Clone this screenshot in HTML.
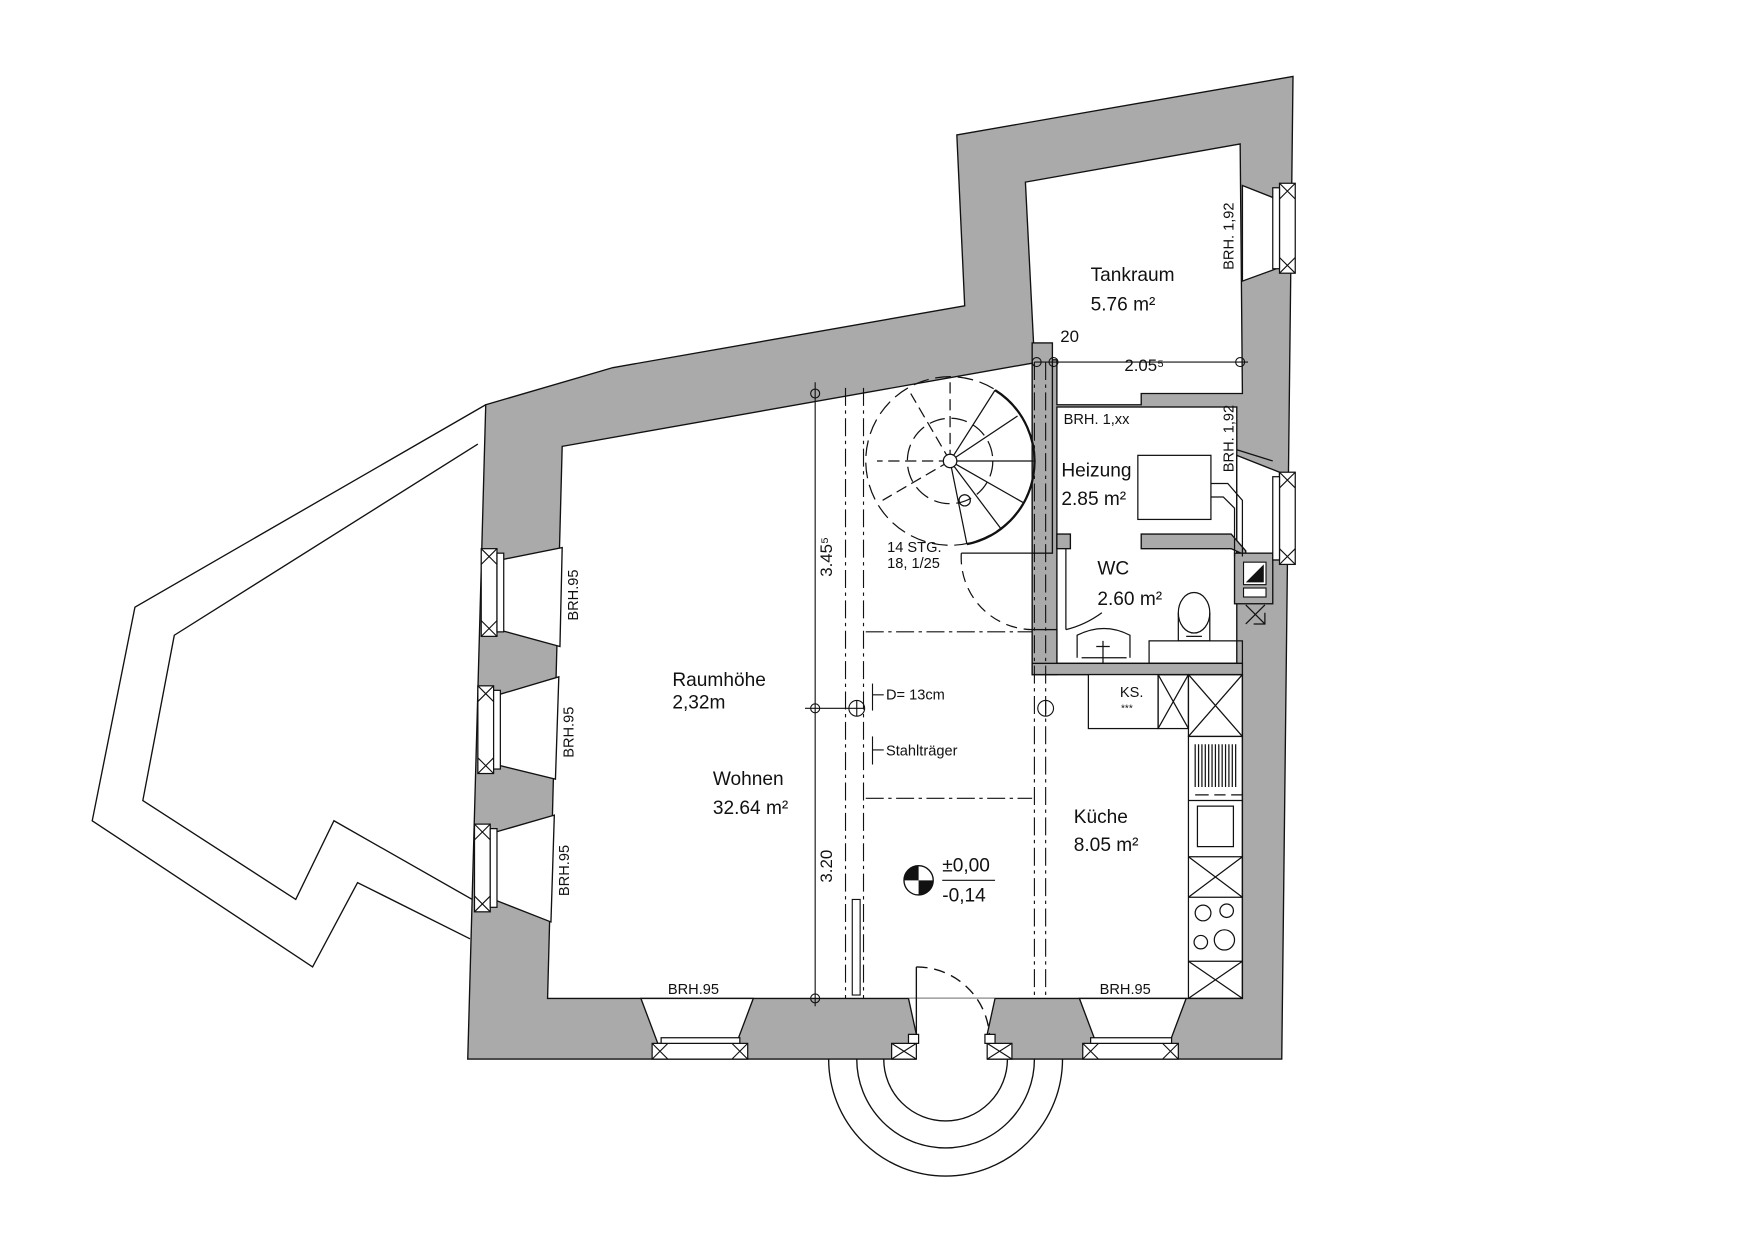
<!DOCTYPE html>
<html><head><meta charset="utf-8"><style>
html,body{margin:0;padding:0;background:#fff}
svg{display:block}
text{font-family:"Liberation Sans Narrow","Liberation Sans",sans-serif;fill:#111}
</style></head><body>
<svg width="1754" height="1239" viewBox="0 0 1560 1102" xmlns="http://www.w3.org/2000/svg">
<g stroke="#111" stroke-width="1.2" fill="none">
<polyline points="432,360 120,540 82,730 278,860 318,785 418,835"/>
<polyline points="425,395 155,565 127,712 263,800 297,730 420,800"/>
</g>
<polygon points="851,120 1150,68 1140,942 416,942 432,360 545,327 858,272" fill="#aaa" stroke="#111" stroke-width="1.2"/>
<g fill="#fff" stroke="#111" stroke-width="1.2">
<polygon points="500,397 918,323 918,600 1105,600 1105,888 487,888"/>
<polygon points="912,162 1103,128 1105,350 1015,350 1015,360 940,360 940,320 920,320"/>
<rect x="940" y="362" width="160" height="228"/>
<polygon points="445,498 500,487 498,575 443,560"/>
<polygon points="443,618 497,602 494,693 441,680"/>
<polygon points="441,740 493,725 490,820 439,800"/>
<polygon points="1105,165 1138,178 1138,238 1105,250"/>
<polygon points="1100,405 1138,420 1138,498 1100,498"/>
<polygon points="570,888 670,888 655,928 585,928"/>
<polygon points="960,888 1055,888 1040,928 975,928"/>
</g>
<polygon points="808,888 885,888 878,920 878,943 815,943 815,920" fill="#fff"/>
<g stroke="#111" stroke-width="1.2" fill="none"><path d="M808,888 L815,920 M885,888 L878,920"/></g>
<g fill="#aaa" stroke="#111" stroke-width="1.2">
<rect x="918" y="305" width="18" height="187"/>
<rect x="918" y="560" width="22" height="40"/>
<rect x="918" y="590" width="187" height="10"/>
<polygon points="1015,475 1095,475 1108,490 1108,494 1095,488 1015,488"/>
<rect x="940" y="475" width="12" height="13"/>
<rect x="1098" y="492" width="34" height="45"/>
</g>
<rect x="1106" y="500" width="20" height="20" fill="#fff" stroke="#111"/>
<polygon points="1108,518 1124,502 1124,518" fill="#111"/>
<rect x="1106" y="523" width="20" height="8" fill="#fff" stroke="#111"/>
<g stroke="#111" stroke-width="1.1" fill="#fff">
<rect x="428" y="488" width="14" height="78"/><rect x="442" y="492" width="6" height="70"/>
<rect x="425" y="610" width="14" height="78"/><rect x="439" y="614" width="6" height="70"/>
<rect x="422" y="733" width="14" height="78"/><rect x="436" y="737" width="6" height="70"/>
<rect x="1138" y="163" width="14" height="80"/><rect x="1132" y="167" width="6" height="72"/>
<rect x="1138" y="420" width="14" height="82"/><rect x="1132" y="424" width="6" height="74"/>
<rect x="580" y="928" width="85" height="14"/><rect x="588" y="923" width="70" height="5"/>
<rect x="963" y="928" width="85" height="14"/><rect x="970" y="923" width="72" height="5"/>
<rect x="793" y="928" width="22" height="14"/><rect x="878" y="928" width="22" height="14"/>
<rect x="808" y="920" width="9" height="8"/><rect x="876" y="920" width="9" height="8"/>
</g>
<g stroke="#111" stroke-width="1">
<path d="M428,488l14,14M442,488l-14,14M428,552l14,14M442,552l-14,14"/>
<path d="M425,610l14,14M439,610l-14,14M425,674l14,14M439,674l-14,14"/>
<path d="M422,733l14,14M436,733l-14,14M422,797l14,14M436,797l-14,14"/>
<path d="M1138,163l14,14M1152,163l-14,14M1138,229l14,14M1152,229l-14,14"/>
<path d="M1138,420l14,14M1152,420l-14,14M1138,488l14,14M1152,488l-14,14"/>
<path d="M580,928l14,14M594,928l-14,14M651,928l14,14M665,928l-14,14"/>
<path d="M963,928l14,14M977,928l-14,14M1034,928l14,14M1048,928l-14,14"/>
<path d="M793,928l22,14M815,928l-22,14M878,928l22,14M900,928l-22,14"/>
</g>
<g stroke="#111" stroke-width="1.2" fill="none">
<path d="M786,942 A55,55 0 0 0 896,942"/>
<path d="M762,942 A79,79 0 0 0 920,942"/>
<path d="M737,942 A104,104 0 0 0 945,942"/>
<line x1="815" y1="860" x2="815" y2="920"/>
<path d="M815,860 A65,65 0 0 1 880,920" stroke-dasharray="10,6"/>
</g>
<g stroke="#111" stroke-width="1" stroke-dasharray="16,4,3,4" fill="none">
<line x1="752" y1="345" x2="752" y2="888"/><line x1="768" y1="345" x2="768" y2="888"/>
<line x1="920" y1="322" x2="920" y2="888"/><line x1="930" y1="322" x2="930" y2="888"/>
<line x1="770" y1="562" x2="918" y2="562"/><line x1="770" y1="710" x2="918" y2="710"/>
</g>
<rect x="758" y="800" width="7" height="85" fill="#fff" stroke="#111"/>
<g stroke="#111" stroke-width="1.1" fill="none">
<circle cx="845" cy="410" r="75" stroke-dasharray="14,6"/>
<circle cx="845" cy="410" r="38" stroke-dasharray="14,6"/>
<path d="M885,347 A75,75 0 0 1 860,484" stroke-width="2"/>
<path d="M845,410 L885,347 M845,410 L905,370 M845,410 L920,410 M845,410 L910,447 M845,410 L890,470 M845,410 L860,484"/>
<path d="M845,410 L780,410 M845,410 L810,350 M845,410 L845,335 M845,410 L785,445" stroke-dasharray="10,5"/>
<circle cx="845" cy="410" r="6" fill="#fff"/>
<circle cx="858" cy="445" r="5"/>
<path d="M855,492 L918,492"/>
<path d="M855,492 A64,64 0 0 0 918,560" stroke-dasharray="10,6"/>
</g>
<g stroke="#111" stroke-width="1" fill="none">
<line x1="725" y1="340" x2="725" y2="895"/>
<line x1="920" y1="322" x2="1110" y2="322"/>
<circle cx="725" cy="350" r="4"/><circle cx="725" cy="630" r="4"/><circle cx="725" cy="888" r="4"/>
<circle cx="922" cy="322" r="4"/><circle cx="937" cy="322" r="4"/><circle cx="1103" cy="322" r="4"/>
<line x1="716" y1="630" x2="768" y2="630"/>
<circle cx="762" cy="630" r="7"/><circle cx="930" cy="630" r="7"/>
<line x1="762" y1="623" x2="762" y2="637"/><line x1="930" y1="623" x2="930" y2="637"/>
<line x1="776" y1="608" x2="776" y2="632"/><line x1="776" y1="618" x2="786" y2="618"/>
<line x1="776" y1="655" x2="776" y2="680"/><line x1="776" y1="667" x2="786" y2="667"/>
</g>
<circle cx="817" cy="783" r="13" fill="#fff" stroke="#111" stroke-width="1.2"/>
<path d="M817,783 L817,770 A13,13 0 0 0 804,783 Z M817,783 L830,783 A13,13 0 0 1 817,796 Z" fill="#111"/>
<line x1="838" y1="783" x2="885" y2="783" stroke="#111"/>
<g stroke="#111" stroke-width="1.1" fill="none">
<rect x="1012" y="405" width="65" height="57" fill="#fff"/>
<path d="M1077,430 H1092 L1105,445 V495 M1077,442 H1088 L1098,452 V495 M1100,400 L1132,410"/>
<path d="M958,585 V565 Q982,553 1005,565 V585"/><path d="M962,585 H1002 M981,570 V590 M975,575 H987"/>
<ellipse cx="1062" cy="545" rx="14" ry="18"/><path d="M1048,545 V570 H1076 V545"/><path d="M1055,566 H1069"/>
<rect x="1022" y="570" width="83" height="20"/>
<path d="M948,488 V560 M948,560 Q965,556 980,545"/>
<path d="M1108,538 L1125,555 M1125,538 L1108,555 M1125,545 V555 H1115"/>
<rect x="968" y="600" width="62" height="48" fill="#fff"/>
<rect x="1030" y="600" width="27" height="48"/><path d="M1030,600 L1057,648 M1057,600 L1030,648"/>
<rect x="1057" y="600" width="48" height="55"/><path d="M1057,600 L1105,655 M1105,600 L1057,655"/>
<rect x="1057" y="655" width="48" height="233"/>
<line x1="1057" y1="712" x2="1105" y2="712"/><line x1="1057" y1="762" x2="1105" y2="762"/>
<line x1="1057" y1="798" x2="1105" y2="798"/><line x1="1057" y1="855" x2="1105" y2="855"/>
<path d="M1057,762 L1105,798 M1105,762 L1057,798 M1057,855 L1105,888 M1105,855 L1057,888"/>
<rect x="1065" y="717" width="32" height="36"/>
<path d="M1063,662v38 M1066,662v38 M1069,662v38 M1072,662v38 M1075,662v38 M1078,662v38 M1081,662v38 M1084,662v38 M1087,662v38 M1090,662v38 M1093,662v38 M1096,662v38 M1099,662v38"/>
<path d="M1063,707h12 M1080,707h10 M1095,707h10"/>
<circle cx="1070" cy="812" r="7"/><circle cx="1091" cy="810" r="6"/><circle cx="1068" cy="838" r="6"/><circle cx="1089" cy="836" r="9"/>
</g>
<g font-size="17">
<text x="970" y="250">Tankraum</text>
<text x="970" y="276">5.76  m²</text>
<text x="944" y="424">Heizung</text>
<text x="944" y="449">2.85  m²</text>
<text x="976" y="511">WC</text>
<text x="976" y="538">2.60  m²</text>
<text x="598" y="610">Raumhöhe</text>
<text x="598" y="630">2,32m</text>
<text x="634" y="698">Wohnen</text>
<text x="634" y="724">32.64  m²</text>
<text x="955" y="732">Küche</text>
<text x="955" y="757">8.05  m²</text>
<text x="838" y="775">±0,00</text>
<text x="838" y="802">-0,14</text>
</g>
<g font-size="13">
<text x="789" y="491">14  STG.</text>
<text x="789" y="505">18, 1/25</text>
<text x="788" y="622">D= 13cm</text>
<text x="788" y="672">Stahlträger</text>
<text x="946" y="377">BRH. 1,xx</text>
<text x="996" y="620">KS.</text>
<text x="997" y="633" font-size="9">***</text>
<text x="594" y="884">BRH.95</text>
<text x="978" y="884">BRH.95</text>
<text x="943" y="304" font-size="15">20</text>
<text x="1000" y="330" font-size="15">2.05⁵</text>
<text transform="translate(514,552) rotate(-90)">BRH.95</text>
<text transform="translate(510,674) rotate(-90)">BRH.95</text>
<text transform="translate(506,797) rotate(-90)">BRH.95</text>
<text transform="translate(1097,240) rotate(-90)">BRH. 1,92</text>
<text transform="translate(1097,420) rotate(-90)">BRH. 1,92</text>
<text transform="translate(740,513) rotate(-90)" font-size="15">3.45⁵</text>
<text transform="translate(740,785) rotate(-90)" font-size="15">3.20</text>
</g>
</svg>
</body></html>
